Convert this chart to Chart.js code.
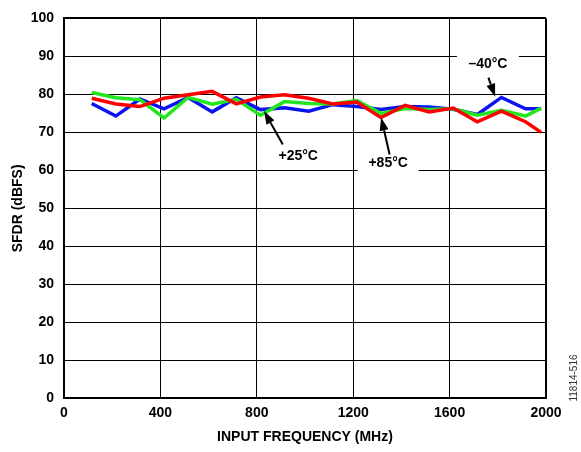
<!DOCTYPE html>
<html>
<head>
<meta charset="utf-8">
<script src="https://cdn.jsdelivr.net/npm/chart.js@4.4.1/dist/chart.umd.min.js"></script>
<style>
  html, body { margin: 0; padding: 0; background: #fff; }
  #wrap { width: 581px; height: 452px; }
</style>
</head>
<body>
<div id="wrap"><canvas id="sfdrChart"></canvas></div>
<script>
// input frequency (MHz)
const freqs = [115, 215, 315, 415, 515, 615, 715, 815, 915, 1015,
               1115, 1215, 1315, 1415, 1515, 1615, 1715, 1815, 1915, 1980];
// SFDR (dBFS) per temperature
const sfdrMinus40 = [77.6, 74.3, 78.8, 76.2, 79.2, 75.4, 79.1, 76.0, 76.5, 75.6,
                     77.3, 76.8, 76.0, 76.8, 76.7, 76.1, 74.7, 79.2, 76.2, 76.2];
const sfdrPlus25  = [80.5, 79.1, 78.6, 73.8, 79.2, 77.4, 78.7, 74.5, 78.1, 77.6,
                     77.5, 78.4, 75.0, 76.3, 76.0, 76.2, 74.5, 75.8, 74.3, 76.4];
const sfdrPlus85  = [79.0, 77.5, 76.8, 79.0, 79.9, 80.8, 77.5, 79.3, 79.9, 79.0,
                     77.5, 78.0, 73.9, 77.1, 75.4, 76.4, 72.8, 75.6, 72.8, 70.0];

const xMin = 0, xMax = 2000, xStep = 400;
const yMin = 0, yMax = 100, yStep = 10;

// callout labels, placed in data units
const callouts = [
  { text: '\u201340°C', x: 1759, y: 88.0, gap: 62, from: [1761, 84.4], to: [1789, 79.4] },
  { text: '+25°C',      x: 972,  y: 63.7, gap: 0,  from: [908, 66.8],  to: [830, 75.6] },
  { text: '+85°C',      x: 1345, y: 62.0, gap: 61, from: [1351, 64.2], to: [1316, 73.9] }
];

const FONT = '"Liberation Sans", Arial, Helvetica, sans-serif';

function toPoints(ys) {
  return freqs.map((f, i) => ({ x: f, y: ys[i] }));
}

const calloutPlugin = {
  id: 'callouts',
  afterDatasetsDraw(chart) {
    const { ctx, scales: { x, y } } = chart;
    ctx.save();
    ctx.font = 'bold 14px ' + FONT;
    ctx.textAlign = 'center';
    ctx.textBaseline = 'middle';
    callouts.forEach(c => {
      const px = x.getPixelForValue(c.x);
      const py = y.getPixelForValue(c.y);
      if (c.gap) {
        ctx.fillStyle = '#fff';
        ctx.fillRect(px - c.gap / 2, py - 12, c.gap, 24);
      }
      ctx.fillStyle = '#000';
      ctx.fillText(c.text, px, py);

      // arrow
      const x0 = x.getPixelForValue(c.from[0]), y0 = y.getPixelForValue(c.from[1]);
      const x1 = x.getPixelForValue(c.to[0]),   y1 = y.getPixelForValue(c.to[1]);
      const ang = Math.atan2(y1 - y0, x1 - x0);
      const headLen = 13, headW = 4.5;
      const bx = x1 - headLen * Math.cos(ang), by = y1 - headLen * Math.sin(ang);
      ctx.strokeStyle = '#000';
      ctx.lineWidth = 2;
      ctx.beginPath();
      ctx.moveTo(x0, y0);
      ctx.lineTo(bx, by);
      ctx.stroke();
      ctx.beginPath();
      ctx.moveTo(x1, y1);
      ctx.lineTo(bx + headW * Math.sin(ang), by - headW * Math.cos(ang));
      ctx.lineTo(bx - headW * Math.sin(ang), by + headW * Math.cos(ang));
      ctx.closePath();
      ctx.fill();
    });

    // figure number at the right edge
    ctx.font = '10px ' + FONT;
    ctx.fillStyle = '#333';
    ctx.translate(574, 378);
    ctx.rotate(-Math.PI / 2);
    ctx.fillText('11814-516', 0, 0);
    ctx.restore();
  }
};

new Chart(document.getElementById('sfdrChart'), {
  type: 'line',
  data: {
    datasets: [
      { label: '+85°C', data: toPoints(sfdrPlus85), borderColor: '#ff0000', order: 1 },
      { label: '+25°C', data: toPoints(sfdrPlus25), borderColor: '#22e61e', order: 2 },
      { label: '\u201340°C', data: toPoints(sfdrMinus40), borderColor: '#0a14f0', order: 3 }
    ]
  },
  options: {
    responsive: true,
    maintainAspectRatio: false,
    animation: false,
    devicePixelRatio: 1,
    layout: { padding: { top: 11, right: 35, bottom: 6, left: 0 } },
    elements: {
      line: { borderWidth: 3.5, tension: 0, borderJoinStyle: 'miter' },
      point: { radius: 0 }
    },
    plugins: {
      legend: { display: false },
      tooltip: { enabled: false }
    },
    scales: {
      x: {
        type: 'linear',
        min: xMin, max: xMax,
        ticks: {
          stepSize: xStep,
          padding: 6,
          color: '#000',
          callback: v => String(v),
          font: { family: FONT, size: 14, weight: 'bold' }
        },
        grid: {
          color: '#000',
          lineWidth: c => (c.tick && (c.tick.value === xMin || c.tick.value === xMax)) ? 2 : 1,
          drawTicks: false
        },
        border: { color: '#000', width: 2 },
        title: {
          display: true,
          text: 'INPUT FREQUENCY (MHz)',
          color: '#000',
          padding: { top: 2, bottom: 0 },
          font: { family: FONT, size: 14, weight: 'bold' }
        }
      },
      y: {
        min: yMin, max: yMax,
        afterFit: s => { s.width = 64; },
        ticks: {
          stepSize: yStep,
          padding: 10,
          color: '#000',
          font: { family: FONT, size: 14, weight: 'bold' }
        },
        grid: {
          color: '#000',
          lineWidth: c => (c.tick && (c.tick.value === yMin || c.tick.value === yMax)) ? 2 : 1,
          drawTicks: false
        },
        border: { color: '#000', width: 2 },
        title: {
          display: true,
          text: 'SFDR (dBFS)',
          color: '#000',
          padding: { top: 10, bottom: 0 },
          font: { family: FONT, size: 14, weight: 'bold' }
        }
      }
    }
  },
  plugins: [calloutPlugin]
});
</script>
</body>
</html>
